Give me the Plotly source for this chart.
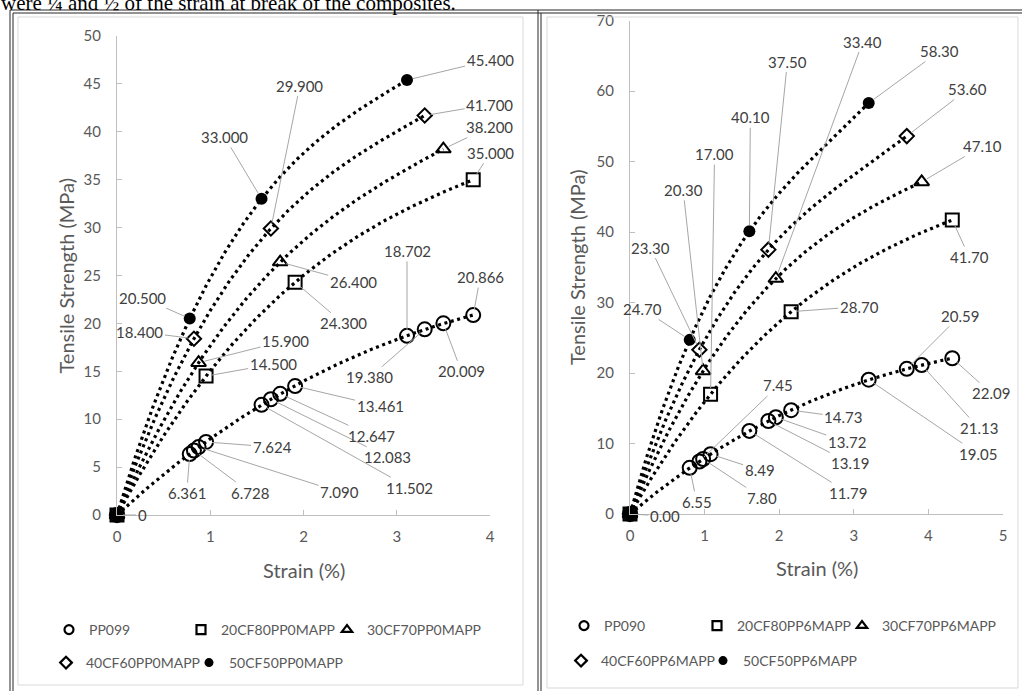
import numpy as np
import plotly.graph_objects as go

W, H = 1022, 691

# ---------------- data: PP with 0 wt% MAPP (left chart) ----------------
strain_pp099 = [0, 0.78, 0.825, 0.875, 0.955, 1.55, 1.65, 1.75, 1.91, 3.11, 3.30, 3.50, 3.82]
ts_pp099 = [0, 6.361, 6.728, 7.090, 7.624, 11.502, 12.083, 12.647, 13.461, 18.702, 19.380, 20.009, 20.866]
strain_20cf80pp0 = [0, 0.955, 1.91, 3.82]
ts_20cf80pp0 = [0, 14.500, 24.300, 35.000]
strain_30cf70pp0 = [0, 0.875, 1.75, 3.50]
ts_30cf70pp0 = [0, 15.900, 26.400, 38.200]
strain_40cf60pp0 = [0, 0.825, 1.65, 3.30]
ts_40cf60pp0 = [0, 18.400, 29.900, 41.700]
strain_50cf50pp0 = [0, 0.78, 1.55, 3.11]
ts_50cf50pp0 = [0, 20.500, 33.000, 45.400]

# ---------------- data: PP with 6 wt% MAPP (right chart) ----------------
strain_pp090 = [0, 0.80, 0.93, 0.98, 1.08, 1.60, 1.855, 1.955, 2.16, 3.20, 3.71, 3.91, 4.32]
ts_pp090 = [0, 6.55, 7.45, 7.80, 8.49, 11.79, 13.19, 13.72, 14.73, 19.05, 20.59, 21.13, 22.09]
strain_20cf80pp6 = [0, 1.08, 2.16, 4.32]
ts_20cf80pp6 = [0, 17.00, 28.70, 41.70]
strain_30cf70pp6 = [0, 0.98, 1.955, 3.91]
ts_30cf70pp6 = [0, 20.30, 33.40, 47.10]
strain_40cf60pp6 = [0, 0.93, 1.855, 3.71]
ts_40cf60pp6 = [0, 23.30, 37.50, 53.60]
strain_50cf50pp6 = [0, 0.80, 1.60, 3.20]
ts_50cf50pp6 = [0, 24.70, 40.10, 58.30]

names_left = ["PP099", "20CF80PP0MAPP", "30CF70PP0MAPP", "40CF60PP0MAPP", "50CF50PP0MAPP"]
names_right = ["PP090", "20CF80PP6MAPP", "30CF70PP6MAPP", "40CF60PP6MAPP", "50CF50PP6MAPP"]

# data-label offsets (pixels, label centre relative to its point)
off_pp099 = [(25, 0), (-3, 39), (56, 42), (141, 45), (66, 5), (148, 83), (117, 58),
             (91, 42), (85, 20), (0, -85), (-55, 48), (18, 48), (7, -38)]
off_20cf80pp0 = [None, (67, -12), (48, 41), (17, -27)]
off_30cf70pp0 = [None, (87, -22), (73, 20), (46, -22)]
off_40cf60pp0 = [None, (-54, -7), (29, -143), (65, -11)]
off_50cf50pp0 = [None, (-47, -21), (-37, -62), (83, -20)]

off_pp090 = [(35, 2), (7, 34), (79, -76), (59, 39), (49, 16), (99, 62), (82, 42),
             (71, 25), (52, 7), (109, 74), (53, -53), (57, 63), (39, 35)]
off_20cf80pp6 = [None, (4, -240), (68, -5), (17, 37)]
off_30cf70pp6 = [None, (-20, -181), (87, -237), (61, -36)]
off_40cf60pp6 = [None, (-49, -102), (19, -188), (61, -47)]
off_50cf50pp6 = [None, (-47, -31), (1, -114), (71, -52)]

FONT = "Lato, 'Open Sans', sans-serif"
GREY_TXT = "#595959"
LABEL_TXT = "#404040"

symbols = [
    dict(symbol="circle-open", size=14, line=dict(width=2, color="black"), color="black"),
    dict(symbol="square-open", size=13, line=dict(width=2, color="black"), color="black"),
    dict(symbol="triangle-up-open", size=13, line=dict(width=2, color="black"), color="black"),
    dict(symbol="diamond-open", size=11, line=dict(width=2, color="black"), color="black"),
    dict(symbol="circle", size=12, color="black"),
]
legend_symbols = [
    dict(symbol="circle-open", size=9, line=dict(width=2.2, color="black"), color="black"),
    dict(symbol="square-open", size=9, line=dict(width=2.2, color="black"), color="black"),
    dict(symbol="triangle-up-open", size=9, line=dict(width=2.2, color="black"), color="black"),
    dict(symbol="diamond-open", size=9, line=dict(width=2.2, color="black"), color="black"),
    dict(symbol="circle", size=9, color="black"),
]

fig = go.Figure()


def px_x(p):
    return p / W


def px_y(p):
    return 1 - p / H


def add_panel(series, names, xa, ya, legend_ids, fmt):
    # polynomial trend lines first, drawn beneath the markers
    for xs, ys, _ in series:
        coef = np.polyfit(xs, ys, 3)
        xx = np.linspace(0, max(xs), 240)
        fig.add_trace(go.Scatter(
            x=xx, y=np.polyval(coef, xx), mode="lines", xaxis=xa, yaxis=ya,
            line=dict(color="black", width=3.2, dash="3px,3.6px"),
            showlegend=False, hoverinfo="skip"))
    for i, (xs, ys, offs) in enumerate(series):
        fig.add_trace(go.Scatter(
            x=xs, y=ys, mode="markers", xaxis=xa, yaxis=ya, marker=symbols[i],
            cliponaxis=False, showlegend=False, name=names[i]))
        fig.add_trace(go.Scatter(
            x=[None], y=[None], mode="markers", xaxis=xa, yaxis=ya,
            marker=legend_symbols[i], name=names[i], legend=legend_ids[i]))
        for x, y, off in zip(xs, ys, offs):
            if off is None:
                continue
            fig.add_annotation(
                x=x, y=y, xref=xa, yref=ya, text=fmt(y), showarrow=True,
                arrowhead=0, arrowwidth=1, arrowcolor="#a6a6a6", standoff=6,
                ax=off[0], ay=off[1], font=dict(family=FONT, size=15, color=LABEL_TXT))


add_panel([
    (strain_pp099, ts_pp099, off_pp099),
    (strain_20cf80pp0, ts_20cf80pp0, off_20cf80pp0),
    (strain_30cf70pp0, ts_30cf70pp0, off_30cf70pp0),
    (strain_40cf60pp0, ts_40cf60pp0, off_40cf60pp0),
    (strain_50cf50pp0, ts_50cf50pp0, off_50cf50pp0),
], names_left, "x", "y", ["legend", "legend2", "legend3", "legend4", "legend5"],
    lambda v: "0" if v == 0 else f"{v:.3f}")

add_panel([
    (strain_pp090, ts_pp090, off_pp090),
    (strain_20cf80pp6, ts_20cf80pp6, off_20cf80pp6),
    (strain_30cf70pp6, ts_30cf70pp6, off_30cf70pp6),
    (strain_40cf60pp6, ts_40cf60pp6, off_40cf60pp6),
    (strain_50cf50pp6, ts_50cf50pp6, off_50cf50pp6),
], names_right, "x2", "y2", ["legend6", "legend7", "legend8", "legend9", "legend10"],
    lambda v: f"{v:.2f}")

axis_common = dict(
    showline=True, linecolor="#bfbfbf", linewidth=1, ticks="inside", ticklen=5,
    tickcolor="#bfbfbf", showgrid=False, zeroline=False, automargin=False,
    tickfont=dict(family=FONT, size=15, color=GREY_TXT),
)

fig.update_layout(
    template="none",
    width=W, height=H, autosize=False,
    margin=dict(l=0, r=0, t=0, b=0, pad=0),
    paper_bgcolor="white", plot_bgcolor="white",
    font=dict(family=FONT, color=GREY_TXT),
    hovermode=False,
    xaxis=dict(domain=[px_x(117), px_x(490)], range=[0, 4], dtick=1, anchor="y",
               ticklabelstandoff=8, **axis_common),
    yaxis=dict(domain=[px_y(515), px_y(36)], range=[0, 50], dtick=5, anchor="x",
               ticklabelstandoff=12, **axis_common),
    xaxis2=dict(domain=[px_x(630), px_x(1003)], range=[0, 5], dtick=1, anchor="y2",
                ticklabelstandoff=8, **axis_common),
    yaxis2=dict(domain=[px_y(514), px_y(20.5)], range=[0, 70], dtick=10, anchor="x2",
                ticklabelstandoff=12, **axis_common),
)

# one legend box per entry, laid out on a two-row grid under each chart
legend_common = dict(
    orientation="h", xanchor="left", yanchor="middle",
    bgcolor="rgba(0,0,0,0)", borderwidth=0,
    font=dict(family=FONT, size=14, color=GREY_TXT), itemclick=False, itemdoubleclick=False,
)
legend_grid = {
    "legend": (49, 630), "legend2": (181, 630), "legend3": (327, 630),
    "legend4": (46, 663), "legend5": (189, 663),
    "legend6": (564, 626), "legend7": (697, 626), "legend8": (842, 626),
    "legend9": (561, 661), "legend10": (703, 661),
}
fig.update_layout({k: dict(x=px_x(x), y=px_y(y), **legend_common)
                   for k, (x, y) in legend_grid.items()})

# axis titles
title_font = dict(family=FONT, size=20, color=GREY_TXT)
for x, y, txt, ang in [(304, 570, "Strain (%)", 0), (817, 568, "Strain (%)", 0),
                       (65, 275.5, "Tensile Strength (MPa)", -90),
                       (577, 267, "Tensile Strength (MPa)", -90)]:
    fig.add_annotation(x=px_x(x), y=px_y(y), xref="paper", yref="paper", text=txt,
                       showarrow=False, textangle=ang, font=title_font,
                       xanchor="center", yanchor="middle")

# running text of the page above the table
fig.add_annotation(x=0, y=px_y(2.5), xref="paper", yref="paper", xanchor="left",
                   yanchor="middle",
                   text="were ¼ and ½ of the strain at break of the composites.",
                   showarrow=False, borderpad=0,
                   font=dict(family="'Liberation Serif', serif", size=21, color="black"))

# table borders (double lines) and chart-area frames
shapes = []
dark = dict(color="#262626", width=1)
light = dict(color="#d9d9d9", width=1)
for yy in (10, 13):
    shapes.append(dict(type="line", xref="paper", yref="paper", x0=px_x(10 if yy == 10 else 13),
                       x1=1, y0=px_y(yy), y1=px_y(yy), line=dark))
for xx in (10, 13, 538, 541):
    shapes.append(dict(type="line", xref="paper", yref="paper", x0=px_x(xx), x1=px_x(xx),
                       y0=px_y(10 if xx in (10, 538) else 13), y1=0, line=dark))
shapes.append(dict(type="rect", xref="paper", yref="paper", x0=px_x(18), x1=px_x(523),
                   y0=px_y(685), y1=px_y(17), line=light))
shapes.append(dict(type="rect", xref="paper", yref="paper", x0=px_x(547), x1=px_x(1018),
                   y0=px_y(688), y1=px_y(17), line=light))
fig.update_layout(shapes=shapes)

fig.write_html("out.html", post_script="document.body.style.margin = '0';")
